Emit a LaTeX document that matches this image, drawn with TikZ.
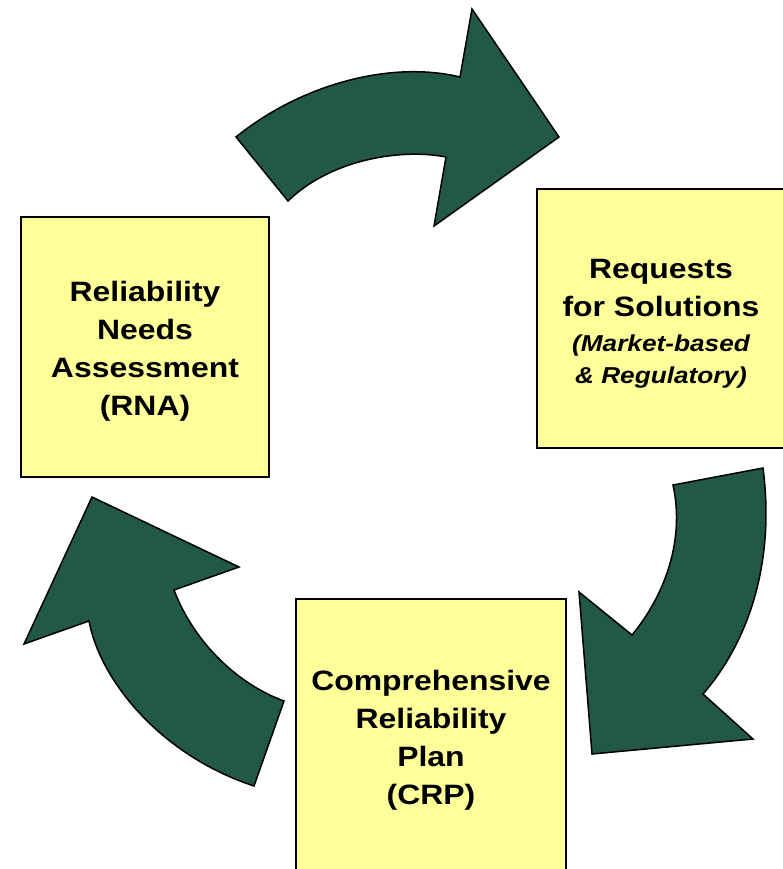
\documentclass[tikz,border=0pt]{standalone}
\usepackage{fontspec}
\setmainfont{Liberation Sans}[FakeStretch=1.14]
\usepackage{tikz}
\usetikzlibrary{positioning}
\definecolor{cyclegreen}{RGB}{33,89,68}
\definecolor{boxyellow}{RGB}{255,255,153}
\tikzset{
  stage/.style={draw=black,line width=2pt,fill=boxyellow,inner sep=0pt,align=center,
    font=\fontsize{28}{38}\selectfont\bfseries},
  bend arrow/.style={draw=black,line width=1.5pt,fill=cyclegreen,line join=miter}
}
\begin{document}
\begin{tikzpicture}[x=1pt,y=-1pt]
   \useasboundingbox (0,0) rectangle (783,869);
   % the three stages
   \node[stage,minimum width=248pt,minimum height=260pt] (rna) at (145,347)
      {\rule{0pt}{29pt}Reliability\\Needs\\Assessment\\(RNA)};
   \node[stage,minimum width=248pt,minimum height=259pt] (rfs) at (661,318)
      {\rule{0pt}{31pt}Requests\\for Solutions\\[-3pt]
       {\fontsize{23}{32}\selectfont\itshape (Market-based}\\[-6pt]
       {\fontsize{23}{32}\selectfont\itshape \& Regulatory)}};
   \node[stage,minimum width=270pt,minimum height=282pt] (crp) at (431,740)
      {Comprehensive\\Reliability\\Plan\\(CRP)};
   % curved block arrows
   \draw[bend arrow] (236,137) .. controls (300,85) and (390,60) .. (460,77)
      -- (472,9) -- (559,137) -- (434,226) -- (446,157)
      .. controls (400,148) and (330,160) .. (288,201) -- cycle;
   \draw[bend arrow] (763,468) .. controls (775,560) and (750,640) .. (703,694)
      -- (753,739) -- (592,754) -- (579,592) -- (632,635)
      .. controls (665,595) and (685,540) .. (673,485) -- cycle;
   \draw[bend arrow] (254,786) .. controls (160,755) and (100,680) .. (89,621)
      -- (24,644) -- (92,497) -- (239,567) -- (174,590)
      .. controls (195,645) and (240,685) .. (284,701) -- cycle;
\end{tikzpicture}
\end{document}
